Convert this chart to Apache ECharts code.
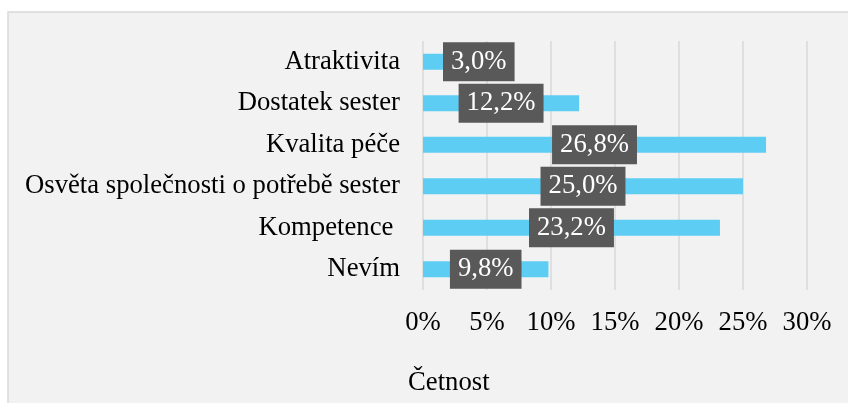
<!DOCTYPE html>
<html>
<head>
<meta charset="utf-8">
<script src="https://cdn.jsdelivr.net/npm/echarts@6/dist/echarts.min.js"></script>
<style>
	html, body { margin: 0; padding: 0; background: #fff; }
	#chart { width: 848px; height: 403px; }
</style>
</head>
<body>
<div id="chart"></div>
<script>
	// data
	const categories = ["Atraktivita", "Dostatek sester", "Kvalita péče", "Osvěta společnosti o potřebě sester", "Kompetence ", "Nevím"];
	const values = [3.0, 12.2, 26.8, 25.0, 23.2, 9.8];
	const axisTitle = "Četnost";

	const font = "'Liberation Serif', 'Times New Roman', serif";
	const fs = 26.7;
	const chart = echarts.init(document.getElementById("chart"), null, { renderer: "canvas" });

	const barData = values.map((v, i) => {
		const item = { value: v };
		// first label is pushed right in the original
		if (i === 0) item.label = { position: "insideLeft", distance: 20 };
		return item;
	});

	chart.setOption({
		backgroundColor: "#ffffff",
		animation: false,
		graphic: [
			{
				type: "rect",
				z: -10,
				shape: { x: 8, y: 12, width: 860, height: 420 },
				style: { fill: "#f2f2f2", stroke: "#d9d9d9", lineWidth: 1.5 },
			},
		],
		title: {
			text: axisTitle,
			left: 408,
			top: 369,
			textStyle: { fontFamily: font, fontSize: fs, fontWeight: "normal", color: "#000" },
			padding: 0,
		},
		grid: { left: 423, right: 41, top: 41, bottom: 113, containLabel: false },
		xAxis: {
			type: "value",
			min: 0,
			max: 30,
			interval: 5,
			axisLine: { show: false },
			axisTick: { show: false },
			axisLabel: { formatter: "{value}%", fontFamily: font, fontSize: fs, color: "#000", margin: 19 },
			splitLine: { show: true, lineStyle: { color: "#d9d9d9", width: 1.5 } },
		},
		yAxis: {
			type: "category",
			inverse: true,
			data: categories,
			axisLine: { show: false },
			axisTick: { show: false },
			axisLabel: { fontFamily: font, fontSize: fs, color: "#000", margin: 23 },
		},
		series: [
			{
				type: "bar",
				data: barData,
				barWidth: 16,
				itemStyle: { color: "#5ecdf4" },
				label: {
					show: true,
					position: "inside",
					formatter: (p) => p.value.toFixed(1).replace(".", ",") + "%",
					fontFamily: font,
					fontSize: fs,
					lineHeight: 27,
					color: "#ffffff",
					backgroundColor: "#595959",
					padding: [7, 8, 5, 8],
				},
			},
		],
	});
</script>
</body>
</html>
